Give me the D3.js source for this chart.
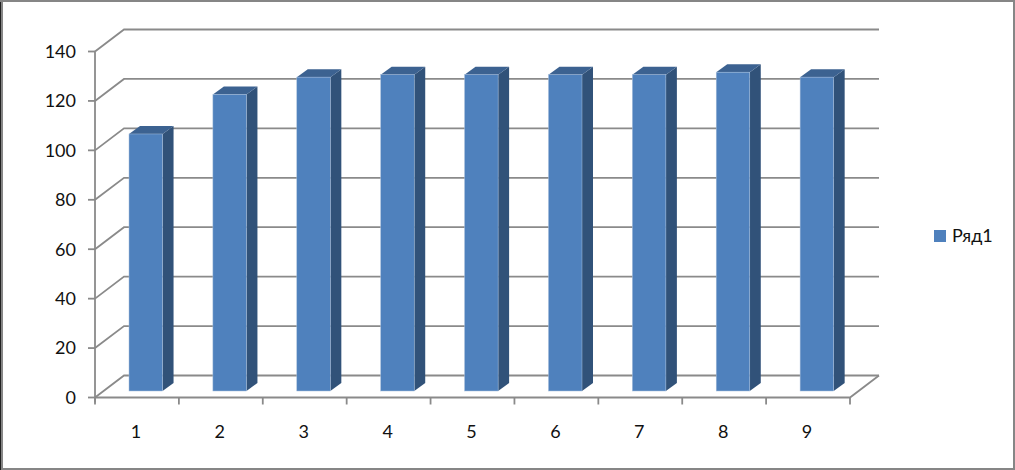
<!DOCTYPE html>
<html><head><meta charset="utf-8">
<script src="https://cdnjs.cloudflare.com/ajax/libs/d3/7.8.5/d3.min.js"></script>
<style>html,body{margin:0;padding:0;background:#000}svg{display:block}</style></head>
<body><div id="c"></div>
<script>
const categories = ["1","2","3","4","5","6","7","8","9"];
const values = [104,120,127,128,128,128,128,129,127];
const ticks = [0,20,40,60,80,100,120,140];
const seriesName = "Ряд1";
const W=1015,H=470, depthX=29, depthY=22, barDX=11, barDY=8;
const font = "Lato, 'Open Sans', sans-serif", axisCol="#8a8a8a";
const svg=d3.select("#c").append("svg").attr("width",W).attr("height",H);
svg.append("rect").attr("width",W).attr("height",H).attr("fill","#868686");
svg.append("rect").attr("x",0).attr("y",2).attr("width",1).attr("height",H-2).attr("fill","#222");
svg.append("rect").attr("x",3).attr("y",2).attr("width",W-5).attr("height",H-4).attr("fill","#fff");
const x=d3.scaleBand().domain(categories).range([95,850]);
const y=d3.scaleLinear().domain([0,140]).range([397.5,51.5]);
const g=svg.append("g").attr("fill","none").attr("stroke",axisCol).attr("stroke-width",1.8);
g.selectAll(".grid").data(ticks).join("path")
  .attr("d",t=>`M${x.range()[0]},${y(t)}L${x.range()[0]+depthX},${y(t)-depthY}H${x.range()[1]+depthX}`);
g.append("path").attr("d",`M${x.range()[0]},${y(0)}H${x.range()[1]}L${x.range()[1]+depthX},${y(0)-depthY}`);
g.append("path").attr("d",`M${x.range()[0]},${y(140)}V${y(0)+5}`);
g.selectAll(".ty").data(ticks).join("path").attr("d",t=>`M${x.range()[0]-7},${y(t)}H${x.range()[0]}`);
g.selectAll(".tx").data(d3.range(10)).join("path")
  .attr("d",i=>{const p=x.range()[0]+i*x.step();return `M${p},${y(0)}V${y(0)+7}`;});
const barW=x.bandwidth()*0.4;
const by0=y(0)-6.5;
const bar=svg.append("g").selectAll("g").data(values).join("g");
const bx=(d,i)=>x(categories[i])+34;
const by=d=>by0-(y(0)-y(d));
bar.append("path").attr("fill","#315279")
  .attr("d",(d,i)=>`M${bx(d,i)+barW},${by(d)}l${barDX},${-barDY}V${by0-barDY}l${-barDX},${barDY}Z`);
bar.append("path").attr("fill","#3c6291")
  .attr("d",(d,i)=>`M${bx(d,i)},${by(d)}l${barDX},${-barDY}h${barW}l${-barDX},${barDY}Z`);
bar.append("rect").attr("fill","#4f81bd").attr("stroke","#a9c0dc").attr("stroke-width",0.5)
  .attr("x",bx).attr("y",by).attr("width",barW).attr("height",d=>by0-by(d));
const txt=svg.append("g").attr("font-family",font).attr("font-size",18).attr("fill","#111");
txt.selectAll(".yl").data(ticks).join("text").attr("x",76).attr("y",t=>y(t)).attr("dy","0.35em")
  .attr("text-anchor","end").text(t=>t);
txt.selectAll(".xl").data(categories).join("text").attr("x",(c,i)=>x(c)+x.bandwidth()/2-1).attr("y",438)
  .attr("text-anchor","middle").text(c=>c);
svg.append("rect").attr("x",934).attr("y",230).attr("width",12).attr("height",12).attr("fill","#4f81bd");
txt.append("text").attr("x",952).attr("y",242).text(seriesName);
</script></body></html>
